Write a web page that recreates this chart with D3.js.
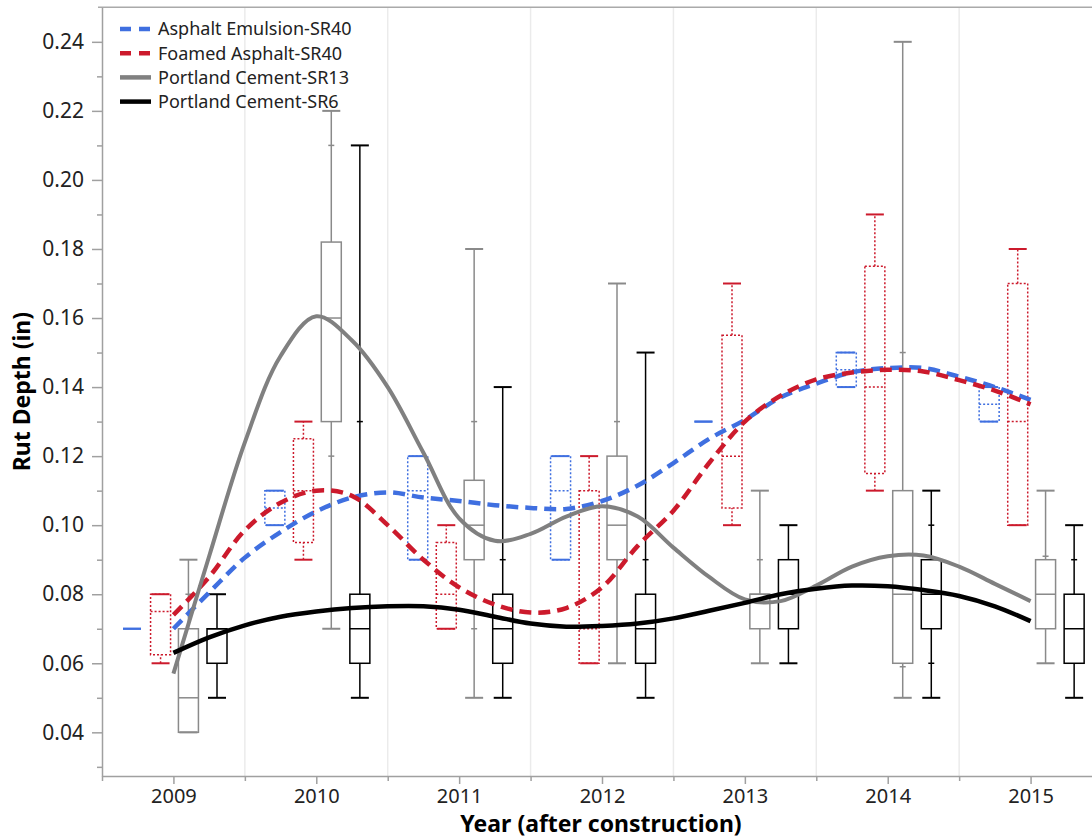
<!DOCTYPE html>
<html>
<head>
<meta charset="utf-8">
<script src="https://cdn.jsdelivr.net/npm/d3@7"></script>
<style>
  body { margin: 0; background: #fff; }
  text { font-family: "Noto Sans", "Open Sans", sans-serif; }
</style>
</head>
<body>
<div id="chart"></div>
<script>
// ---- data ----
var years = [2009, 2010, 2011, 2012, 2013, 2014, 2015];
var seriesNames = ["Asphalt Emulsion-SR40", "Foamed Asphalt-SR40", "Portland Cement-SR13", "Portland Cement-SR6"];

// box stats per year: [min, q1, median, q3, max]
var emulsionBoxes = [[0.07, 0.07, 0.07, 0.07, 0.07], [0.10, 0.10, 0.105, 0.11, 0.11], [0.09, 0.09, 0.11, 0.12, 0.12],
  [0.09, 0.09, 0.11, 0.12, 0.12], [0.13, 0.13, 0.13, 0.13, 0.13], [0.14, 0.14, 0.145, 0.15, 0.15], [0.13, 0.13, 0.135, 0.14, 0.14]];
var foamedBoxes = [[0.06, 0.0625, 0.075, 0.08, 0.08], [0.09, 0.095, 0.11, 0.125, 0.13], [0.07, 0.07, 0.08, 0.095, 0.10],
  [0.06, 0.06, 0.07, 0.11, 0.12], [0.10, 0.105, 0.12, 0.155, 0.17], [0.11, 0.115, 0.14, 0.175, 0.19], [0.10, 0.10, 0.13, 0.17, 0.18]];
var sr13Boxes = [[0.04, 0.04, 0.05, 0.07, 0.09], [0.07, 0.13, 0.16, 0.182, 0.22], [0.05, 0.09, 0.10, 0.113, 0.18],
  [0.06, 0.09, 0.10, 0.12, 0.17], [0.06, 0.07, 0.08, 0.08, 0.11], [0.05, 0.06, 0.08, 0.11, 0.24], [0.06, 0.07, 0.08, 0.09, 0.11]];
var sr6Boxes = [[0.05, 0.06, 0.07, 0.07, 0.08], [0.05, 0.06, 0.07, 0.08, 0.21], [0.05, 0.06, 0.07, 0.08, 0.14],
  [0.05, 0.06, 0.07, 0.08, 0.15], [0.06, 0.07, 0.08, 0.09, 0.10], [0.05, 0.07, 0.08, 0.09, 0.11], [0.05, 0.06, 0.07, 0.08, 0.10]];

// small marks on the whiskers
var emulsionMarks = [[], [], [], [], [], [], []];
var foamedMarks = [[], [], [], [], [], [], []];
var sr13Marks = [[0.08], [0.21, 0.12], [0.13, 0.07], [0.13], [0.09], [0.15, 0.059], [0.091]];
var sr6Marks = [[], [0.13], [0.09], [0.09], [], [0.10, 0.06], [0.09]];

// smoothed trend lines
var curveYears = [2009, 2009.25, 2009.5, 2009.75, 2010, 2010.25, 2010.5, 2010.75, 2011, 2011.25, 2011.5, 2011.75,
  2012, 2012.25, 2012.5, 2012.75, 2013, 2013.25, 2013.5, 2013.75, 2014, 2014.25, 2014.5, 2014.75, 2015];
var emulsionCurve = [0.070, 0.0805, 0.0906, 0.098, 0.104, 0.108, 0.1095, 0.108, 0.107, 0.1058, 0.105, 0.1047,
  0.107, 0.1115, 0.118, 0.125, 0.1305, 0.137, 0.141, 0.1443, 0.1455, 0.1455, 0.143, 0.140, 0.1363];
var foamedCurve = [0.074, 0.085, 0.0985, 0.1065, 0.110, 0.1085, 0.100, 0.090, 0.082, 0.077, 0.0747, 0.076,
  0.082, 0.094, 0.1042, 0.118, 0.130, 0.1375, 0.1422, 0.1442, 0.145, 0.1445, 0.142, 0.139, 0.135];
var sr13Curve = [0.057, 0.091, 0.124, 0.149, 0.1605, 0.1535, 0.140, 0.121, 0.102, 0.0955, 0.0975, 0.1025,
  0.1055, 0.1025, 0.0935, 0.085, 0.0785, 0.078, 0.0825, 0.088, 0.091, 0.0912, 0.088, 0.083, 0.078];
var sr6Curve = [0.063, 0.0675, 0.071, 0.0735, 0.075, 0.076, 0.0765, 0.0765, 0.0755, 0.0735, 0.0715, 0.0706,
  0.0708, 0.0715, 0.073, 0.0752, 0.0775, 0.080, 0.0816, 0.0825, 0.0823, 0.0812, 0.0795, 0.0765, 0.0722];

var yMajor = [0.04, 0.06, 0.08, 0.10, 0.12, 0.14, 0.16, 0.18, 0.20, 0.22, 0.24];
var yMinor = [0.03, 0.05, 0.07, 0.09, 0.11, 0.13, 0.15, 0.17, 0.19, 0.21, 0.23];
var xMinor = [2008.5, 2009.5, 2010.5, 2011.5, 2012.5, 2013.5, 2014.5];

// ---- layout ----
var svgWidth = 1092, svgHeight = 839;
var plotLeft = 102, plotTop = 7.3, plotBottom = 776;

var svg = d3.select("#chart").append("svg")
  .attr("width", svgWidth)
  .attr("height", svgHeight)
  .style("display", "block");

var x = d3.scaleLinear().domain([2008.5, 2015.5]).range([plotLeft, plotLeft + 1000]);
var y = d3.scaleLinear().domain([0.02735, 0.25]).range([plotBottom, plotTop]);

// vertical grid at half years
svg.append("g").selectAll("line")
  .data(xMinor.slice(1))
  .enter().append("line")
  .attr("x1", d => x(d)).attr("x2", d => x(d))
  .attr("y1", plotTop).attr("y2", plotBottom)
  .attr("stroke", "#ebebeb").attr("stroke-width", 1.5);

// top frame line
svg.append("line")
  .attr("x1", plotLeft - 4).attr("x2", svgWidth)
  .attr("y1", plotTop).attr("y2", plotTop)
  .attr("stroke", "#aaa").attr("stroke-width", 1.5);

// axes
var yAxis = svg.append("g")
  .attr("transform", `translate(${plotLeft},0)`)
  .call(d3.axisLeft(y).tickValues(yMajor).tickFormat(d3.format(".2f")).tickSize(10).tickPadding(8).tickSizeOuter(0));
svg.append("g")
  .attr("transform", `translate(${plotLeft},0)`)
  .call(d3.axisLeft(y).tickValues(yMinor).tickFormat("").tickSize(5).tickSizeOuter(0))
  .select(".domain").remove();

var xAxis = svg.append("g")
  .attr("transform", `translate(0,${plotBottom})`)
  .call(d3.axisBottom(x).tickValues(years).tickFormat(d3.format("d")).tickSize(8).tickPadding(5).tickSizeOuter(0));
svg.append("g")
  .attr("transform", `translate(0,${plotBottom})`)
  .call(d3.axisBottom(x).tickValues(xMinor).tickFormat("").tickSize(5).tickSizeOuter(0))
  .select(".domain").remove();

svg.selectAll(".domain, .tick line").attr("stroke", "#a0a0a0").attr("stroke-width", 1.5);
yAxis.selectAll("text").attr("font-size", 21).attr("fill", "#222");
xAxis.selectAll("text").attr("font-size", 20).attr("fill", "#222");

// axis titles
svg.append("text")
  .attr("transform", `translate(30,${(plotTop + plotBottom) / 2}) rotate(-90)`)
  .attr("text-anchor", "middle")
  .attr("font-size", 23)
  .attr("font-weight", "bold")
  .text("Rut Depth (in)");

svg.append("text")
  .attr("x", 601).attr("y", 832)
  .attr("text-anchor", "middle")
  .attr("font-size", 23)
  .attr("font-weight", "bold")
  .text("Year (after construction)");

// ---- box plots ----
var series = [
  { boxes: emulsionBoxes, marks: emulsionMarks, curve: emulsionCurve, color: "#3f6fe0", offset: -0.29, dotted: true, dash: "12,7", width: 4.5 },
  { boxes: foamedBoxes, marks: foamedMarks, curve: foamedCurve, color: "#cc1a2c", offset: -0.09, dotted: true, dash: "12,7", width: 4.5 },
  { boxes: sr13Boxes, marks: sr13Marks, curve: sr13Curve, color: "#808080", offset: 0.105, dotted: false, dash: null, width: 4 },
  { boxes: sr6Boxes, marks: sr6Marks, curve: sr6Curve, color: "#000000", offset: 0.305, dotted: false, dash: null, width: 4.5 }
];

var boxW = 20, capW = 18, markW = 6;

series.forEach(function(s) {
  var boxColor = s.color === "#808080" ? "#8a8a8a" : s.color;
  var dashArr = s.dotted ? "2,2" : null;
  var g = svg.append("g");

  s.boxes.forEach(function(b, i) {
    var cx = x(years[i] + s.offset);
    // whiskers
    if (b[0] < b[1]) {
      g.append("line").attr("x1", cx).attr("x2", cx).attr("y1", y(b[0])).attr("y2", y(b[1]))
        .attr("stroke", boxColor).attr("stroke-width", 1.5).attr("stroke-dasharray", dashArr);
    }
    if (b[4] > b[3]) {
      g.append("line").attr("x1", cx).attr("x2", cx).attr("y1", y(b[3])).attr("y2", y(b[4]))
        .attr("stroke", boxColor).attr("stroke-width", 1.5).attr("stroke-dasharray", dashArr);
    }
    // box
    if (b[3] > b[1]) {
      g.append("rect")
        .attr("x", cx - boxW / 2).attr("y", y(b[3]))
        .attr("width", boxW).attr("height", y(b[1]) - y(b[3]))
        .attr("fill", "none").attr("stroke", boxColor).attr("stroke-width", 1.5)
        .attr("stroke-dasharray", dashArr);
      g.append("line")
        .attr("x1", cx - boxW / 2).attr("x2", cx + boxW / 2)
        .attr("y1", y(b[2])).attr("y2", y(b[2]))
        .attr("stroke", boxColor).attr("stroke-width", 1.5).attr("stroke-dasharray", dashArr);
    }
    // caps
    [b[0], b[4]].forEach(function(v) {
      g.append("line")
        .attr("x1", cx - capW / 2).attr("x2", cx + capW / 2)
        .attr("y1", y(v)).attr("y2", y(v))
        .attr("stroke", boxColor).attr("stroke-width", 2);
    });
    // whisker marks
    s.marks[i].forEach(function(v) {
      g.append("line")
        .attr("x1", cx - markW / 2).attr("x2", cx + markW / 2)
        .attr("y1", y(v)).attr("y2", y(v))
        .attr("stroke", boxColor).attr("stroke-width", 1.5);
    });
  });
});

// ---- trend curves ----
var line = d3.line()
  .x((d, i) => x(curveYears[i]))
  .y(d => y(d))
  .curve(d3.curveCatmullRom.alpha(0.5));

series.forEach(function(s) {
  svg.append("path")
    .attr("d", line(s.curve))
    .attr("fill", "none")
    .attr("stroke", s.color)
    .attr("stroke-width", s.width)
    .attr("stroke-dasharray", s.dash);
});

// ---- legend ----
var legend = svg.append("g").attr("transform", "translate(120,29)");
series.forEach(function(s, i) {
  var row = legend.append("g").attr("transform", `translate(0,${i * 24.2})`);
  row.append("line")
    .attr("x1", 0).attr("x2", 31)
    .attr("stroke", s.color)
    .attr("stroke-width", 4.5)
    .attr("stroke-dasharray", s.dotted ? "11,8" : null);
  row.append("text")
    .attr("x", 38).attr("dy", "0.35em")
    .attr("font-size", 18)
    .attr("fill", "#222")
    .text(seriesNames[i]);
});
</script>
</body>
</html>
